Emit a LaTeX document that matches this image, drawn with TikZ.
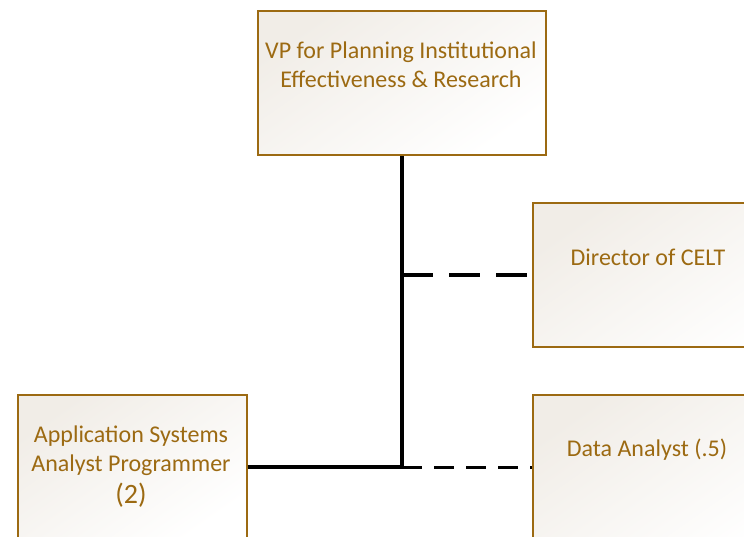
\documentclass[tikz,border=0pt]{standalone}
\usepackage{fontspec}
\setmainfont{Carlito}
\definecolor{gold}{RGB}{156,106,18}
\definecolor{beige}{RGB}{241,237,231}
\tikzset{
  box/.style={draw=gold, line width=2pt, shade, top color=beige, bottom color=white, shading angle=35, anchor=north west, minimum width=288pt, minimum height=144pt, inner sep=0pt},
  txt/.style={text=gold, align=center, font=\fontsize{24}{29}\selectfont, inner sep=0pt},
  solidline/.style={line width=3.5pt, black},
  dashA/.style={line width=3.5pt, black, dash pattern=on 31pt off 16pt},
  dashB/.style={line width=3pt, black, dash pattern=on 20pt off 12pt},
}
\begin{document}
\begin{tikzpicture}[x=1pt,y=-1pt]
\useasboundingbox (0,0) rectangle (744,537);
\clip (0,0) rectangle (744,537);
\node[box] (vp) at (257,10) {};
\node[txt] (vpt) at (401,64.5) {VP for Planning Institutional\\Effectiveness \& Research};
\node[box] (dir) at (532,202) {};
\node[txt] (dirt) at (648,257) {Director of CELT};
\node[box] (data) at (532,394) {};
\node[txt] (datat) at (647,450) {Data Analyst (.5)};
\node[box, minimum width=228.5pt] (asap) at (17,394) {};
\node[txt] (asapt) at (131,467) {Application Systems\\Analyst Programmer\\[3pt]{\fontsize{28}{30}\selectfont (2)}};
\coordinate (j1) at (vp.south |- dir.west);
\coordinate (j2) at (vp.south |- asap.east);
\draw[solidline] (vp.south) -- (j2);
\draw[solidline] (asap.east) -- (j2);
\draw[dashA] (j1) -- (dir.west);
\draw[dashB] (j2) -- (data.west);
\end{tikzpicture}
\end{document}
